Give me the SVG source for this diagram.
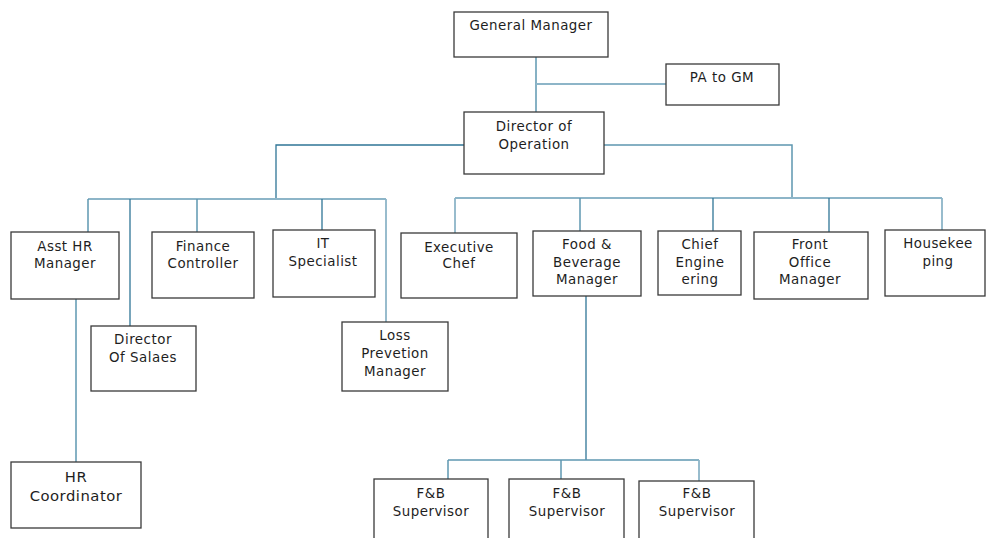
<svg xmlns="http://www.w3.org/2000/svg" width="986" height="538" viewBox="0 0 986 538">
<style>
.box{fill:#fff;stroke:#3a3a3a;stroke-width:1.3}
.t{font-family:"DejaVu Sans","Liberation Sans",sans-serif;font-size:13.4px;letter-spacing:0.5px;fill:#1e1e1e;text-anchor:middle}
.big{font-size:14.8px}
.c{fill:none;stroke:#5e97b0;stroke-width:1.5}
.d{fill:none;stroke:#2f7596;stroke-width:1.3}
.l{fill:none;stroke:#8db5c8;stroke-width:1.8}
</style>
<rect width="986" height="538" fill="#fff"/>
<g id="connectors">
<path class="c" d="M536 57V112"/>
<path class="l" d="M536 84H666"/>
<path class="d" d="M464 145H276V199"/>
<path class="c" d="M604 145H792V198"/>
<path class="l" d="M88 199H386"/>
<path class="c" d="M88 199V232"/>
<path class="d" d="M130 199V326"/>
<path class="c" d="M197 199V232"/>
<path class="d" d="M322 199V230"/>
<path class="l" d="M386 199V322"/>
<path class="c" d="M76 299V462"/>
<path class="l" d="M455 198H942"/>
<path class="l" d="M455 198V233"/>
<path class="c" d="M580 198V231"/>
<path class="d" d="M713 198V231"/>
<path class="d" d="M829 198V232"/>
<path class="l" d="M942 198V230"/>
<path class="d" d="M586 296V460"/>
<path class="c" d="M448 460H699"/>
<path class="c" d="M448 460V479"/>
<path class="c" d="M561 460V479"/>
<path class="l" d="M699 460V481"/>
</g>
<g id="gm"><rect class="box" x="454" y="12" width="154" height="45"/><text class="t" x="531" y="30">General Manager</text></g>
<g id="pa"><rect class="box" x="666" y="64" width="113" height="41"/><text class="t" x="722" y="82">PA to GM</text></g>
<g id="doo"><rect class="box" x="464" y="112" width="140" height="62"/><text class="t" x="534" y="131">Director of</text><text class="t" x="534" y="149">Operation</text></g>
<g id="asst-hr"><rect class="box" x="11" y="232" width="108" height="67"/><text class="t" x="65" y="251">Asst HR</text><text class="t" x="65" y="268">Manager</text></g>
<g id="finance"><rect class="box" x="152" y="232" width="102" height="66"/><text class="t" x="203" y="251">Finance</text><text class="t" x="203" y="268">Controller</text></g>
<g id="it"><rect class="box" x="273" y="230" width="102" height="67"/><text class="t" x="323" y="248">IT</text><text class="t" x="323" y="266">Specialist</text></g>
<g id="dos"><rect class="box" x="91" y="326" width="105" height="65"/><text class="t" x="143" y="344">Director</text><text class="t" x="143" y="362">Of Salaes</text></g>
<g id="loss"><rect class="box" x="342" y="322" width="106" height="69"/><text class="t" x="395" y="340">Loss</text><text class="t" x="395" y="358">Prevetion</text><text class="t" x="395" y="376">Manager</text></g>
<g id="hr-coord"><rect class="box" x="11" y="462" width="130" height="66"/><text class="t big" x="76" y="482">HR</text><text class="t big" x="76" y="501">Coordinator</text></g>
<g id="exec-chef"><rect class="box" x="401" y="233" width="116" height="65"/><text class="t" x="459" y="252">Executive</text><text class="t" x="459" y="268">Chef</text></g>
<g id="fbm"><rect class="box" x="533" y="231" width="108" height="65"/><text class="t" x="587" y="249">Food &amp;</text><text class="t" x="587" y="267">Beverage</text><text class="t" x="587" y="284">Manager</text></g>
<g id="chief-eng"><rect class="box" x="658" y="231" width="83" height="64"/><text class="t" x="700" y="249">Chief</text><text class="t" x="700" y="267">Engine</text><text class="t" x="700" y="284">ering</text></g>
<g id="front-office"><rect class="box" x="754" y="232" width="114" height="67"/><text class="t" x="810" y="249">Front</text><text class="t" x="810" y="267">Office</text><text class="t" x="810" y="284">Manager</text></g>
<g id="housekeeping"><rect class="box" x="885" y="230" width="100" height="66"/><text class="t" x="938" y="248">Housekee</text><text class="t" x="938" y="266">ping</text></g>
<g id="fbs1"><rect class="box" x="374" y="479" width="114" height="70"/><text class="t" x="431" y="498">F&amp;B</text><text class="t" x="431" y="516">Supervisor</text></g>
<g id="fbs2"><rect class="box" x="509" y="479" width="115" height="70"/><text class="t" x="567" y="498">F&amp;B</text><text class="t" x="567" y="516">Supervisor</text></g>
<g id="fbs3"><rect class="box" x="639" y="481" width="115" height="70"/><text class="t" x="697" y="498">F&amp;B</text><text class="t" x="697" y="516">Supervisor</text></g>
</svg>
